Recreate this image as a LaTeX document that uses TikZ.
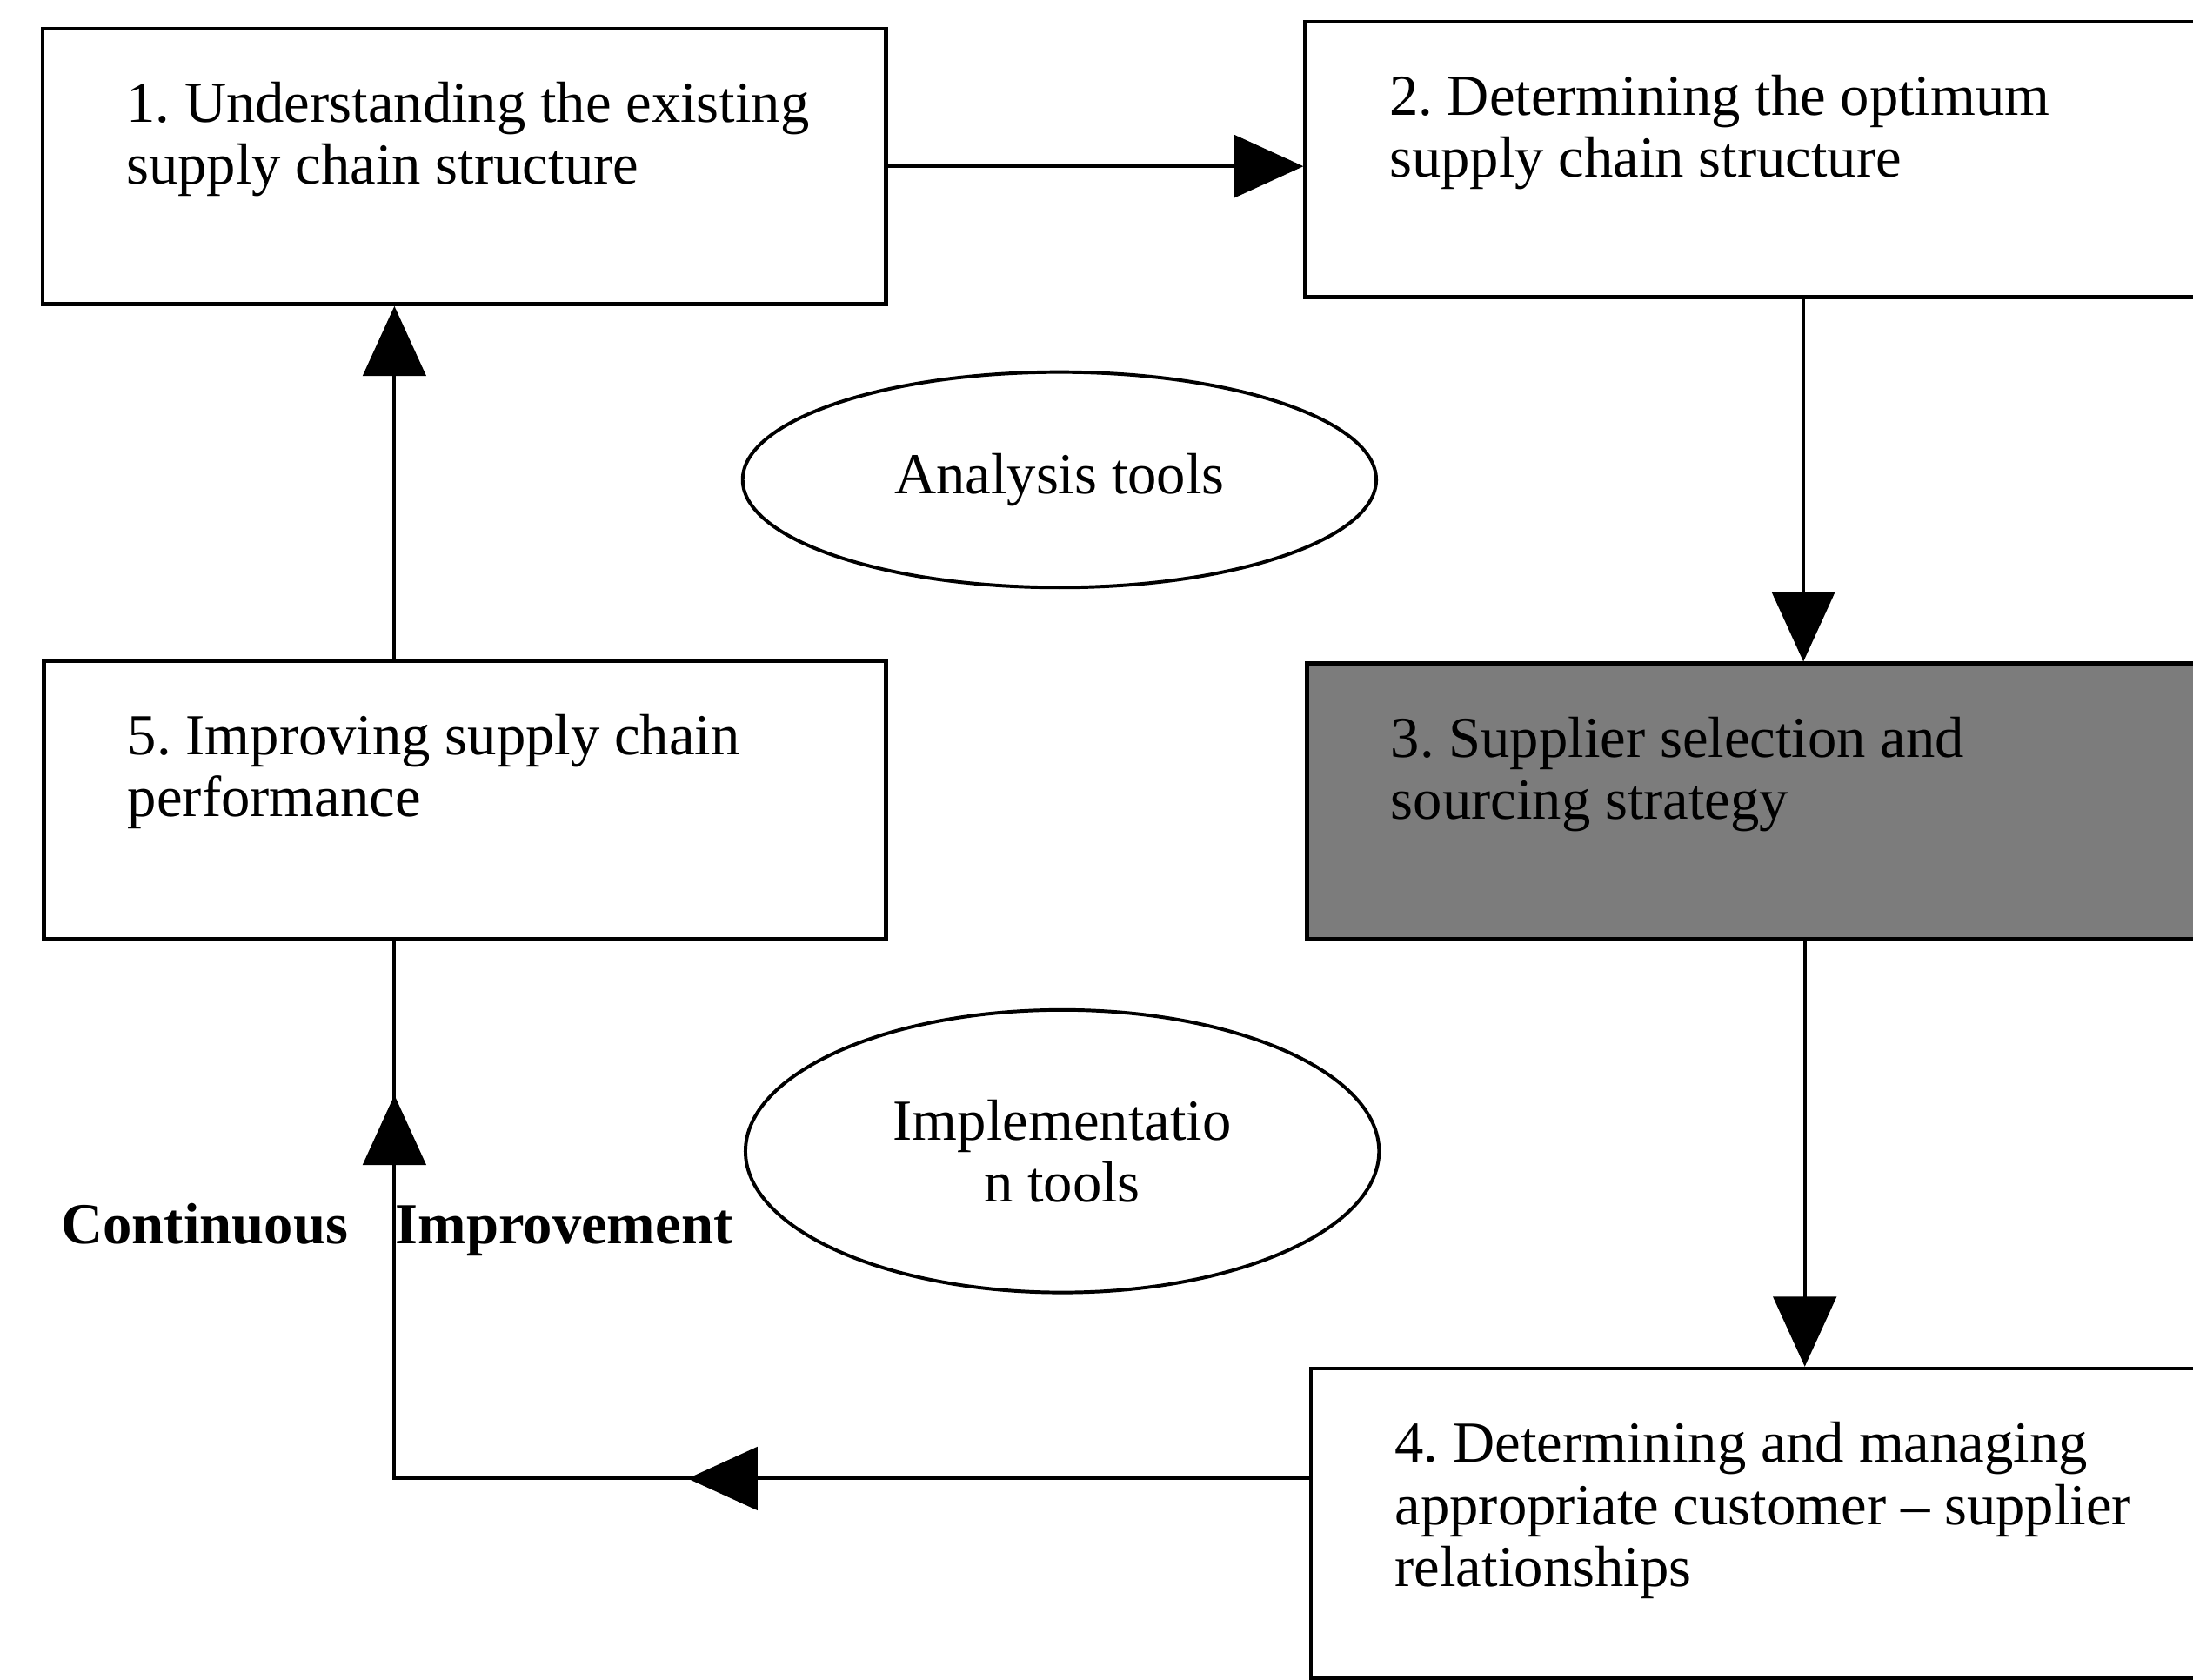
\documentclass[tikz,border=0pt]{standalone}
\usepackage{fontspec}
\setmainfont{Liberation Serif}
\usetikzlibrary{calc,arrows.meta,shapes.geometric,decorations.markings}
\definecolor{srcGray}{RGB}{124,124,124}

\begin{document}
\begin{tikzpicture}[
    stage/.style={draw, line width=0.8pt, anchor=north west, inner sep=0pt, text width=#1, align=flush left,
        font=\fontsize{11.8}{12.6}\selectfont\frenchspacing, text height=0.67cm,
        execute at begin node={\leftskip=0.6cm}},
    tool/.style={draw, ellipse, line width=0.7pt, inner sep=0pt, minimum width=4.53cm, align=center,
        font=\fontsize{11.8}{12.6}\selectfont},
    arr/.style={-{Triangle[length=0.5cm, width=0.45cm]}, line width=0.7pt},
    loop/.style={line width=0.7pt, postaction={decorate}, decoration={markings,
        mark=at position 0.428 with {\arrow{Triangle[length=0.5cm, width=0.45cm]}},
        mark=at position 0.894 with {\arrow{Triangle[length=0.5cm, width=0.45cm]}}}},
]
\useasboundingbox (0,0) rectangle (15.68,-12.01);
\clip (0,0) rectangle (15.68,-12.01);

% Stages
\node[stage=6.03cm, text depth=1.30cm] (exist) at (0.29,-0.19) {1. Understanding the existing\\supply chain structure};
\node[stage=7.12cm, text depth=1.30cm] (optim) at (9.32,-0.14) {2. Determining the optimum\\supply chain structure};
\node[stage=7.12cm, text depth=1.30cm, fill=srcGray] (source) at (9.33,-4.73) {3. Supplier selection and\\sourcing strategy};
\node[stage=7.12cm, text depth=1.54cm] (relat) at (9.36,-9.77) {4. Determining and managing\\appropriate customer -- supplier\\relationships};
\node[stage=6.02cm, text depth=1.32cm] (improve) at (0.30,-4.71) {5. Improving supply chain\\performance};

% Tools
\node[tool, minimum height=1.54cm] (analysis) at (7.575,-3.43) {Analysis tools};
\node[tool, minimum height=2.02cm] (implem) at (7.595,-8.23) {Implementatio\\n tools};

% Loop label
\node[font=\fontsize{11.8}{12.6}\selectfont\bfseries, anchor=base west, inner sep=0pt] (contimp) at (0.43,-8.89) {Continuous\hspace{0.34cm}Improvement};

% Arrows
\coordinate (bend) at (2.82,-10.57);
\draw[arr] (exist.east) -- (exist.east -| optim.west);
\draw[arr] (optim.south) -- (optim.south |- source.north);
\draw[arr] (source.south) -- (source.south |- relat.north);
\draw[loop] (relat.west |- bend) -- (bend) -- (bend |- improve.south);
\draw[arr] (improve.north -| bend) -- (exist.south -| bend);
\end{tikzpicture}
\end{document}
